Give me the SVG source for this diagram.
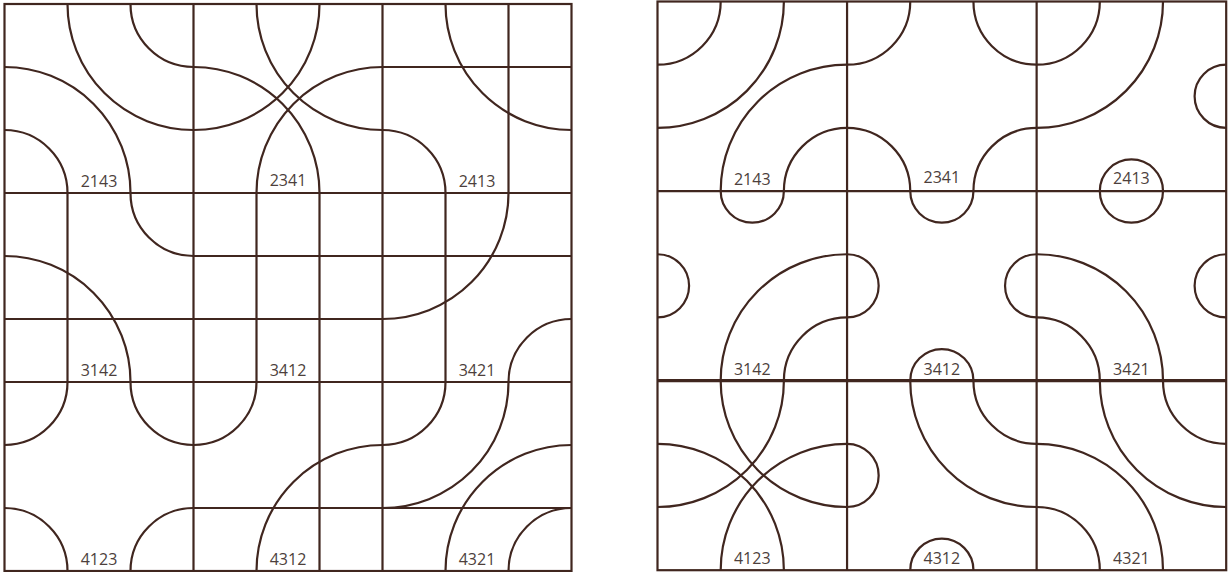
<svg xmlns="http://www.w3.org/2000/svg" xmlns:xlink="http://www.w3.org/1999/xlink" width="1228" height="572" viewBox="0 0 1228 572">
<style>
.ln{fill:none;stroke:#40261f;stroke-width:2.2;stroke-linecap:butt}
.thick{stroke-width:3.2}
.lb{font-family:"Open Sans","Noto Sans",sans-serif;font-size:16px;fill:#4d3f3c;text-anchor:middle}
</style>
<defs>
<path id="tl63" class="ln" d="M63,0A63,63 0 0 1 0,63"/>
<path id="tl126" class="ln" d="M126,0A126,126 0 0 1 0,126"/>
<path id="tr63" class="ln" d="M126,0A63,63 0 0 0 189,63"/>
<path id="tr126" class="ln" d="M63,0A126,126 0 0 0 189,126"/>
<path id="bl63" class="ln" d="M0,126A63,63 0 0 1 63,189"/>
<path id="bl126" class="ln" d="M0,63A126,126 0 0 1 126,189"/>
<path id="br63" class="ln" d="M126,189A63,63 0 0 1 189,126"/>
<path id="br126" class="ln" d="M63,189A126,126 0 0 1 189,63"/>
<path id="bt" class="ln" d="M63,0A31.5,31.5 0 0 0 126,0"/>
<path id="bb" class="ln" d="M63,189A31.5,31.5 0 0 1 126,189"/>
<path id="bL" class="ln" d="M0,63A31.5,31.5 0 0 1 0,126"/>
<path id="bR" class="ln" d="M189,63A31.5,31.5 0 0 0 189,126"/>
</defs>
<rect width="1228" height="572" fill="#ffffff"/>

<!-- LEFT PANEL -->
<g id="left-panel" transform="translate(4.5,4)">
  <g id="L2143" transform="translate(0,0)">
    <use xlink:href="#tr126"/><use xlink:href="#tr63"/><use xlink:href="#bl126"/><use xlink:href="#bl63"/>
    <text class="lb" x="94.5" y="183">2143</text>
  </g>
  <g id="L2341" transform="translate(189,0)">
    <use xlink:href="#tl126"/><use xlink:href="#tr126"/><use xlink:href="#bl126"/><use xlink:href="#br126"/>
    <text class="lb" x="94.5" y="182">2341</text>
  </g>
  <g id="L2413" transform="translate(378,0)">
    <path class="ln" d="M126,0V189M0,63H189"/>
    <use xlink:href="#tr126"/><use xlink:href="#bl63"/>
    <text class="lb" x="94.5" y="183">2413</text>
  </g>
  <g id="L3142" transform="translate(0,189)">
    <path class="ln" d="M63,0V189M0,126H189"/>
    <use xlink:href="#tr63"/><use xlink:href="#bl126"/>
    <text class="lb" x="94.5" y="183">3142</text>
  </g>
  <g id="L3412" transform="translate(189,189)">
    <path class="ln" d="M63,0V189M126,0V189M0,63H189M0,126H189"/>
    <text class="lb" x="94.5" y="183">3412</text>
  </g>
  <g id="L3421" transform="translate(378,189)">
    <path class="ln" d="M63,0V189M0,63H189"/>
    <use xlink:href="#tl126"/><use xlink:href="#br63"/>
    <text class="lb" x="94.5" y="183">3421</text>
  </g>
  <g id="L4123" transform="translate(0,378)">
    <use xlink:href="#tl63"/><use xlink:href="#tr63"/><use xlink:href="#bl63"/><use xlink:href="#br63"/>
    <text class="lb" x="94.5" y="183">4123</text>
  </g>
  <g id="L4312" transform="translate(189,378)">
    <path class="ln" d="M126,0V189M0,126H189"/>
    <use xlink:href="#tl63"/><use xlink:href="#br126"/>
    <text class="lb" x="94.5" y="183">4312</text>
  </g>
  <g id="L4321" transform="translate(378,378)">
    <path class="ln" d="M0,126H189"/>
    <use xlink:href="#tl63"/><use xlink:href="#tl126"/><use xlink:href="#br126"/><use xlink:href="#br63"/>
    <text class="lb" x="94.5" y="183">4321</text>
  </g>
  <g id="left-frame">
    <rect class="ln" x="0" y="0" width="567" height="567"/>
    <path class="ln" d="M189,0V567M378,0V567M0,189H567M0,378H567"/>
  </g>
</g>

<!-- RIGHT PANEL -->
<g id="right-panel" transform="translate(657.5,1.5) scale(1.003)">
  <g id="R2143" transform="translate(0,0)">
    <use xlink:href="#tl63"/><use xlink:href="#tl126"/><use xlink:href="#br126"/><use xlink:href="#br63"/>
    <text class="lb" x="94.5" y="183">2143</text>
  </g>
  <g id="R2341" transform="translate(189,0)">
    <use xlink:href="#tl63"/><use xlink:href="#tr63"/><use xlink:href="#bl63"/><use xlink:href="#br63"/>
    <text class="lb" x="94.5" y="181">2341</text>
  </g>
  <g id="R2413" transform="translate(378,0)">
    <use xlink:href="#tl63"/><use xlink:href="#tl126"/><use xlink:href="#bR"/><use xlink:href="#bb"/>
    <text class="lb" x="94.5" y="182">2413</text>
  </g>
  <g id="R3142" transform="translate(0,189)">
    <use xlink:href="#bt"/><use xlink:href="#bL"/><use xlink:href="#br126"/><use xlink:href="#br63"/>
    <text class="lb" x="94.5" y="183">3142</text>
  </g>
  <g id="R3412" transform="translate(189,189)">
    <use xlink:href="#bt"/><use xlink:href="#bL"/><use xlink:href="#bR"/><use xlink:href="#bb"/>
    <text class="lb" x="94.5" y="183">3412</text>
  </g>
  <g id="R3421" transform="translate(378,189)">
    <use xlink:href="#bt"/><use xlink:href="#bl126"/><use xlink:href="#bl63"/><use xlink:href="#bR"/>
    <text class="lb" x="94.5" y="183">3421</text>
  </g>
  <g id="R4123" transform="translate(0,378)">
    <use xlink:href="#tl126"/><use xlink:href="#tr126"/><use xlink:href="#bl126"/><use xlink:href="#br126"/>
    <text class="lb" x="94.5" y="183">4123</text>
  </g>
  <g id="R4312" transform="translate(189,378)">
    <use xlink:href="#bL"/><use xlink:href="#tr126"/><use xlink:href="#tr63"/><use xlink:href="#bb"/>
    <text class="lb" x="94.5" y="183">4312</text>
  </g>
  <g id="R4321" transform="translate(378,378)">
    <use xlink:href="#bl126"/><use xlink:href="#bl63"/><use xlink:href="#tr126"/><use xlink:href="#tr63"/>
    <text class="lb" x="94.5" y="183">4321</text>
  </g>
  <g id="right-frame">
    <rect class="ln" x="0" y="0" width="567" height="567"/>
    <path class="ln" d="M189,0V567M378,0V567M0,189H567"/>
    <path class="ln thick" d="M0,378H567"/>
  </g>
</g>
</svg>
